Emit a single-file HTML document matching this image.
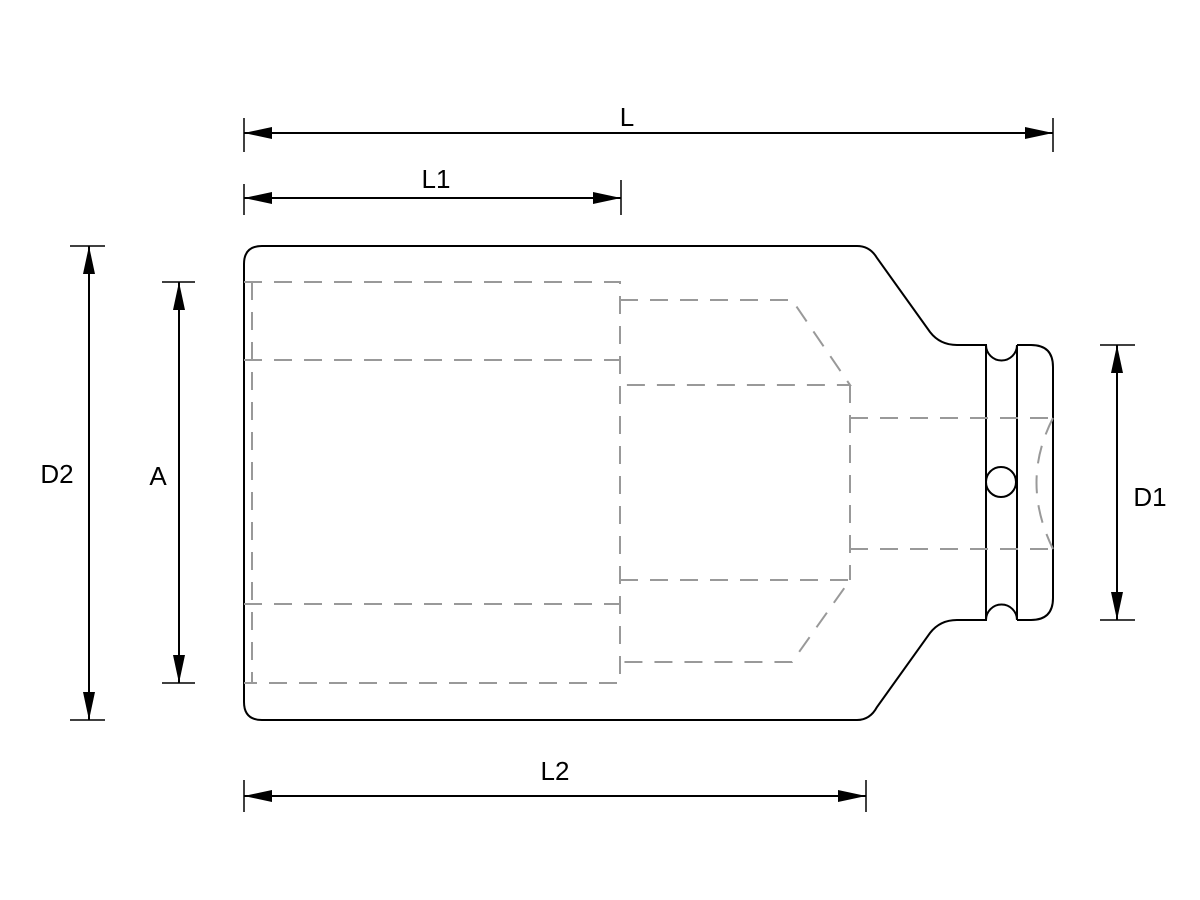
<!DOCTYPE html>
<html><head><meta charset="utf-8"><style>html,body{margin:0;padding:0;background:#fff}svg{display:block}</style></head>
<body>
<svg width="1200" height="900" viewBox="0 0 1200 900" xmlns="http://www.w3.org/2000/svg">
<defs>
<marker id="a" viewBox="0 0 28 12" refX="28" refY="6" markerWidth="28" markerHeight="12" markerUnits="userSpaceOnUse" orient="auto-start-reverse"><path d="M0,0 L28,6 L0,12 Z" fill="#000"/></marker>
</defs>
<g fill="none" stroke="#000" stroke-width="2">
<path d="M262,246 L857,246 Q870,246 877,258 L930,332 Q940,345 957,345 L986,345 L986,620 L957,620 Q940,620 930,633 L877,707 Q870,720 857,720 L262,720 Q244,720 244,702 L244,264 Q244,246 262,246 Z"/>
<path d="M986,345 A15,15 0 0 0 1017,345"/>
<path d="M986,620 A15,15 0 0 1 1017,620"/>
<path d="M1017,345 L1017,620 M1017,345 L1031,345 Q1053,345 1053,367 L1053,598 Q1053,620 1031,620 L1017,620"/>
<circle cx="1001" cy="482" r="15"/>
</g>
<g fill="none" stroke="#999" stroke-width="2" stroke-dasharray="18,12">
<path d="M244,282 L620,282 L620,683 L244,683"/>
<path d="M252,282 L252,683"/>
<path d="M244,360 L620,360 M244,604 L620,604"/>
<path d="M620,300 L792,300 L850,385 L620,385"/>
<path d="M620,580 L850,580 L792,662 L620,662"/>
<path d="M850,385 L850,580"/>
<path d="M850,418 L1053,418 M850,549 L1053,549"/>
<path d="M1053,418 Q1020,482 1053,549"/>
</g>
<g stroke="#000" stroke-width="1.5" fill="none">
<path d="M244,118 L244,152 M1053,118 L1053,152"/>
<path d="M244,184 L244,215 M621,180 L621,215"/>
<path d="M244,780 L244,812 M866,780 L866,812"/>
<path d="M70,246 L105,246 M70,720 L105,720"/>
<path d="M162,282 L195,282 M162,683 L195,683"/>
<path d="M1100,345 L1135,345 M1100,620 L1135,620"/>
</g>
<g stroke="#000" stroke-width="2" fill="none">
<line x1="244" y1="133" x2="1053" y2="133" marker-start="url(#a)" marker-end="url(#a)"/>
<line x1="244" y1="198" x2="621" y2="198" marker-start="url(#a)" marker-end="url(#a)"/>
<line x1="244" y1="796" x2="866" y2="796" marker-start="url(#a)" marker-end="url(#a)"/>
<line x1="89" y1="246" x2="89" y2="720" marker-start="url(#a)" marker-end="url(#a)"/>
<line x1="179" y1="282" x2="179" y2="683" marker-start="url(#a)" marker-end="url(#a)"/>
<line x1="1117" y1="345" x2="1117" y2="620" marker-start="url(#a)" marker-end="url(#a)"/>
</g>
<g font-family="Liberation Sans, sans-serif" font-size="26" fill="#000" text-anchor="middle">
<text x="627" y="126">L</text>
<text x="436" y="188">L1</text>
<text x="555" y="780">L2</text>
<text x="57" y="483">D2</text>
<text x="158" y="485">A</text>
<text x="1150" y="506">D1</text>
</g>
</svg>
</body></html>
